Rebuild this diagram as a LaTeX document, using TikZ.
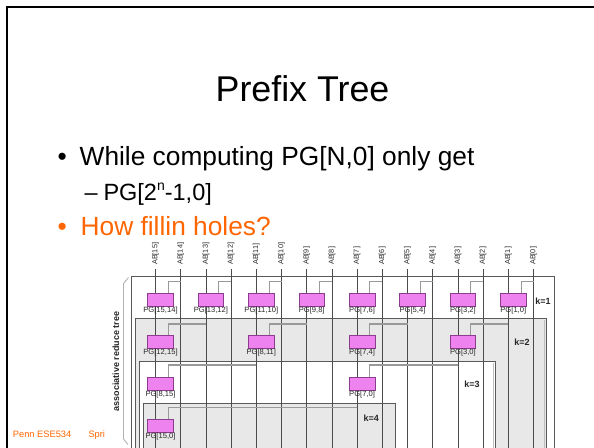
\documentclass[tikz,border=0pt]{standalone}
\usepackage{fontspec}
\setmainfont{Liberation Sans}
\definecolor{slideorange}{RGB}{255,102,0}
\definecolor{pgfill}{RGB}{238,130,238}
\definecolor{pgedge}{RGB}{140,60,140}
\definecolor{regiongray}{RGB}{232,232,232}

\begin{document}
\begin{tikzpicture}[x=1pt,y=-1pt,
  trunk/.style={draw=black!70, line width=0.7pt},
  branch/.style={draw=black!40, line width=1.1pt},
  pgbox/.style={draw=pgedge, fill=pgfill, line width=0.6pt,
    minimum width=25pt, minimum height=11.5pt, inner sep=0pt},
  pglabel/.style={font=\fontsize{7.6}{8}\selectfont, text=black!85, inner sep=0.6pt, anchor=north},
  ablabel/.style={font=\fontsize{7.3}{8}\selectfont, text=black!85, rotate=90, anchor=west, inner sep=0pt},
  klabel/.style={font=\fontsize{9}{10}\selectfont\bfseries, text=black!85, inner sep=0pt},
  region/.style={draw=black!65, line width=0.6pt},
  slidetext/.style={anchor=base west, inner sep=0pt},
]
\useasboundingbox (0,0) rectangle (594,447);
\clip (0,0) rectangle (594,447);
\fill[white] (0,0) rectangle (594,447);

% slide frame
\draw[line width=2.2pt] (7.2,460) -- (7.2,7.2) -- (610,7.2);

% title and bullets
\node[anchor=base, inner sep=0pt, font=\fontsize{35.8}{40}\selectfont] (title) at (302.5,101) {Prefix Tree};
\node[slidetext, font=\fontsize{26.3}{30}\selectfont] (dot1) at (57.5,165.5) {•};
\node[slidetext, font=\fontsize{26.3}{30}\selectfont] (b1) at (79.5,165.5) {While computing PG[N,0] only get};
\node[slidetext, font=\fontsize{23.5}{26}\selectfont] (dash) at (84.5,200) {–};
\node[slidetext, font=\fontsize{23.5}{26}\selectfont] (b2) at (103.3,200)
  {PG[2\raisebox{0.42em}{\fontsize{14}{14}\selectfont n}-1,0]};
\node[slidetext, font=\fontsize{26.3}{30}\selectfont, text=slideorange] (dot3) at (57.5,235) {•};
\node[slidetext, font=\fontsize{26.3}{30}\selectfont, text=slideorange] (b3) at (80.5,235) {How fillin holes?};

% footer
\node[slidetext, font=\fontsize{9.3}{10}\selectfont, text=slideorange] (foot) at (12.7,437.7) {Penn ESE534};
\node[slidetext, font=\fontsize{9.3}{10}\selectfont, text=slideorange] (foot2) at (88.3,437.7) {Spri};

% side bracket and its caption
\draw[black!30, line width=0.9pt] (128.5,277.5) -- (123.5,283.5) -- (123.5,439) -- (128,444.5);
\node[rotate=90, font=\fontsize{9}{10}\selectfont\bfseries, text=black!85, inner sep=0pt] (assoc) at (116,361.7) {associative reduce tree};

% nested stage regions, open at the bottom
\path[region, fill=white]      (131.7,460) |- (554.3,276.7) -- (554.3,460);
\path[region, fill=regiongray] (135.0,460) |- (546.5,318.5) -- (546.5,460);
\draw[black!25, line width=0.9pt] (544.0,319.5) -- (544.0,460);
\path[region, fill=white]      (139.3,460) |- (495.7,361.5) -- (495.7,460);
\draw[black!25, line width=0.9pt] (493.7,362.5) -- (493.7,460);
\path[region, fill=regiongray] (143.3,460) |- (395.7,403.3) -- (395.7,460);

% input columns
\foreach \i/\x in {15/155.5,14/180.7,13/205.9,12/231.1,11/256.3,10/281.5,9/306.7,8/331.9,
                   7/357.1,6/382.3,5/407.5,4/432.7,3/457.9,2/483.1,1/508.3,0/533.5} {
  \coordinate (a\i) at (\x,269);
  \coordinate (z\i) at (\x,460);
  \node[ablabel] (lab\i) at (\x,265) {AB[\i]};
}
\foreach \i in {0,...,15} \draw[trunk] (a\i) -- (z\i);

% stage 1 cells and the taps feeding them
\foreach \i/\x/\s in {15/155.5/180.7,13/205.9/231.1,11/256.3/281.5,9/306.7/331.9,
                      7/357.1/382.3,5/407.5/432.7,3/457.9/483.1,1/508.3/533.5} {
  \node[pgbox] (g1-\i) at (\x+5,299.75) {};
  \coordinate (s1-\i) at (\s,281.7);
}
% stage 2
\foreach \i/\x/\s in {15/155.5/205.9,11/256.3/306.7,7/357.1/407.5,3/457.9/508.3} {
  \node[pgbox] (g2-\i) at (\x+5,341.75) {};
  \coordinate (s2-\i) at (\s,324);
}
% stage 3
\foreach \i/\x/\s in {15/155.5/256.3,7/357.1/457.9} {
  \node[pgbox] (g3-\i) at (\x+5,383.75) {};
  \coordinate (s3-\i) at (\s,365);
}
% stage 4
\node[pgbox] (g4-15) at (160.5,425.75) {};
\coordinate (s4-15) at (357.1,407.5);

% side inputs of the combine cells
\foreach \i in {15,13,11,9,7,5,3,1} \draw[branch] (s1-\i) -| ([xshift=7.8pt]g1-\i.north);
\foreach \i in {15,11,7,3} \draw[branch] (s2-\i) -| ([xshift=7.8pt]g2-\i.north);
\foreach \i in {15,7} \draw[branch] (s3-\i) -| ([xshift=7.8pt]g3-\i.north);
\draw[branch] (s4-15) -| ([xshift=7.8pt]g4-15.north);

% redraw cells above the wires
\foreach \n in {g1-15,g1-13,g1-11,g1-9,g1-7,g1-5,g1-3,g1-1,g2-15,g2-11,g2-7,g2-3,g3-15,g3-7,g4-15}
  \draw[draw=pgedge, fill=pgfill, line width=0.6pt] (\n.south west) rectangle (\n.north east);

% cell labels
\foreach \n/\t in {g1-15/{PG[15,14]},g1-13/{PG[13,12]},g1-11/{PG[11,10]},g1-9/{PG[9,8]},
                   g1-7/{PG[7,6]},g1-5/{PG[5,4]},g1-3/{PG[3,2]},g1-1/{PG[1,0]},
                   g2-15/{PG[12,15]},g2-11/{PG[8,11]},g2-7/{PG[7,4]},g2-3/{PG[3,0]},
                   g3-15/{PG[8,15]},g3-7/{PG[7,0]},g4-15/{PG[15,0]}}
  \node[pglabel] (t\n) at (\n.south) {\t};

% stage labels
\node[klabel] (k1) at (543,301) {k=1};
\node[klabel] (k2) at (522,342.5) {k=2};
\node[klabel] (k3) at (472,384.3) {k=3};
\node[klabel] (k4) at (371.3,418.3) {k=4};
\end{tikzpicture}
\end{document}
